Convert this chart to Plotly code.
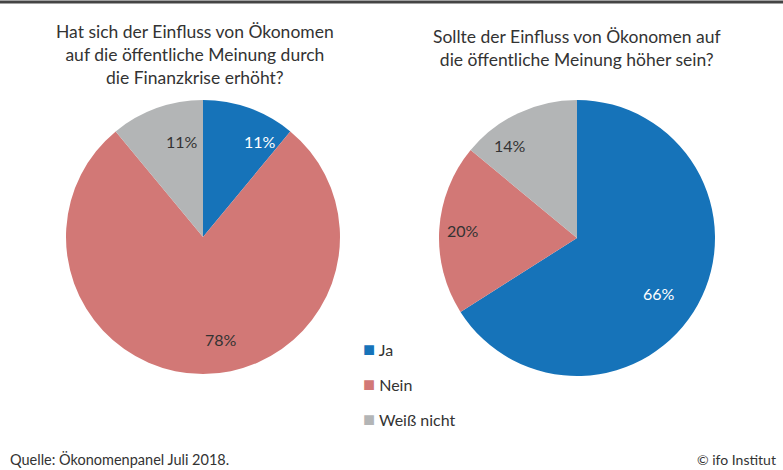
import math
import plotly.graph_objects as go

W, H = 783, 470

labels = ["Ja", "Nein", "Weiß nicht"]
colors = ["#1673B9", "#D27876", "#B3B5B6"]
values_1 = [11, 78, 11]
values_2 = [66, 20, 14]
title_1 = "Hat sich der Einfluss von Ökonomen<br>auf die öffentliche Meinung durch<br>die Finanzkrise erhöht?"
title_2 = "Sollte der Einfluss von Ökonomen auf<br>die öffentliche Meinung höher sein?"
source = "Quelle: Ökonomenpanel Juli 2018."
credit = "© ifo Institut"

FONT = "Lato, Roboto, sans-serif"
TXT = "#333333"

# pie geometry (pixels): centre x, centre y (from top), radius
pies = [
    dict(values=values_1, cx=203, cy=237, r=137),
    dict(values=values_2, cx=577, cy=238, r=138),
]

fig = go.Figure()
annotations = []
for p in pies:
    x0, x1 = (p["cx"] - p["r"]) / W, (p["cx"] + p["r"]) / W
    y0, y1 = (H - p["cy"] - p["r"]) / H, (H - p["cy"] + p["r"]) / H
    fig.add_trace(go.Pie(
        labels=labels, values=p["values"], sort=False, direction="clockwise",
        rotation=0, marker=dict(colors=colors, line=dict(width=0)),
        textinfo="none", hoverinfo="label+percent", showlegend=False,
        domain=dict(x=[x0, x1], y=[y0, y1]),
    ))
    total = sum(p["values"])
    cum = 0
    for i, v in enumerate(p["values"]):
        mid = (cum + v / 2) / total * 2 * math.pi
        cum += v
        rr = p["r"] * 0.83
        px = p["cx"] + rr * math.sin(mid)
        py = p["cy"] - rr * math.cos(mid)
        annotations.append(dict(
            x=px / W, y=1 - py / H, xref="paper", yref="paper",
            text=f"{round(v / total * 100)}%", showarrow=False,
            font=dict(family=FONT, size=16, color="white" if i == 0 else TXT),
        ))

# titles
annotations.append(dict(x=195 / W, y=1 - 19 / H, xref="paper", yref="paper",
                        xanchor="center", yanchor="top", text=title_1, showarrow=False,
                        font=dict(family=FONT, size=17.5, color=TXT)))
annotations.append(dict(x=577 / W, y=1 - 24 / H, xref="paper", yref="paper",
                        xanchor="center", yanchor="top", text=title_2, showarrow=False,
                        font=dict(family=FONT, size=17.5, color=TXT)))

# legend
for i, (lab, col) in enumerate(zip(labels, colors)):
    annotations.append(dict(
        x=361 / W, y=1 - (348 + 35 * i) / H, xref="paper", yref="paper",
        xanchor="left", yanchor="middle", showarrow=False,
        text=f"<span style='color:{col};font-size:20px'>■</span> {lab}",
        font=dict(family=FONT, size=16, color=TXT),
    ))

# source and credit
annotations.append(dict(x=8 / W, y=1 - 459 / H, xref="paper", yref="paper",
                        xanchor="left", yanchor="middle", text=source, showarrow=False,
                        font=dict(family=FONT, size=14.5, color=TXT)))
annotations.append(dict(x=778 / W, y=1 - 459 / H, xref="paper", yref="paper",
                        xanchor="right", yanchor="middle", text=credit, showarrow=False,
                        font=dict(family=FONT, size=14, color=TXT)))

fig.update_layout(
    width=W, height=H, margin=dict(l=0, r=0, t=0, b=0),
    paper_bgcolor="white", plot_bgcolor="white",
    annotations=annotations,
    shapes=[dict(type="line", xref="paper", yref="paper", x0=0, x1=1,
                 y0=1 - 2 / H, y1=1 - 2 / H, line=dict(color="#444444", width=3))],
)

fig.write_html("out.html", config={"displayModeBar": False},
               post_script="document.body.style.margin='0';document.body.style.overflow='hidden';")
